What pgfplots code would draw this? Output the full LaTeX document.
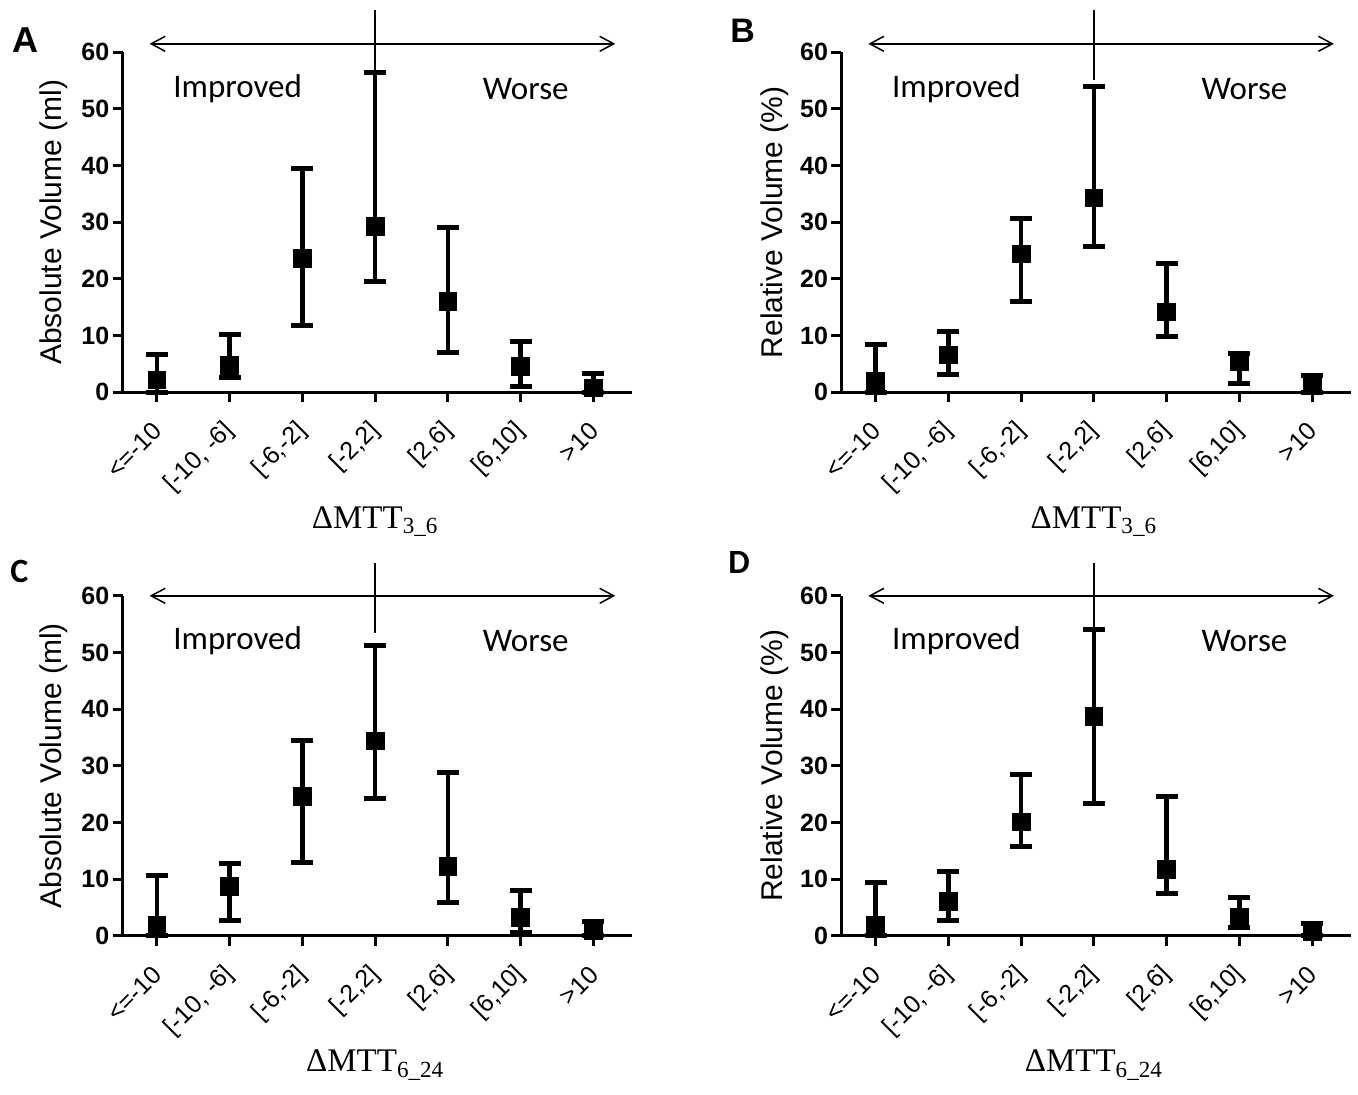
\documentclass[border=0pt]{standalone}
\usepackage{fontspec}
\setmainfont{Liberation Sans}
\newfontfamily\calib{Carlito}
\newfontfamily\tnr{Liberation Serif}
\usepackage{pgfplots}
\usepackage{pgfplotstable}
\pgfplotsset{compat=1.18}
\usetikzlibrary{arrows.meta}

% x y up lo  (up/lo = error above/below the mean)
\pgfplotstableread{
x y up lo
0 2.2 4.4 2.2
1 4.75 5.45 2.05
2 23.6 15.9 11.85
3 29.3 27.2 9.8
4 16.0 13.0 9.0
5 4.6 4.4 3.5
6 0.8 2.5 0.8
}\dataA
\pgfplotstableread{
x y up lo
0 2.0 6.4 2.0
1 6.6 4.2 3.4
2 24.4 6.2 8.4
3 34.3 19.7 8.5
4 14.2 8.5 4.3
5 5.4 1.5 3.9
6 1.4 1.5 1.4
}\dataB
\pgfplotstableread{
x y up lo
0 1.9 8.7 1.9
1 8.7 4.1 6.0
2 24.6 9.9 11.6
3 34.4 16.9 10.2
4 12.2 16.7 6.4
5 3.2 4.8 2.6
6 0.9 1.6 0.9
}\dataC
\pgfplotstableread{
x y up lo
0 1.9 7.5 1.9
1 6.1 5.3 3.4
2 20.1 8.4 4.4
3 38.7 15.3 15.4
4 11.7 12.8 4.2
5 3.2 3.5 1.8
6 0.75 1.35 0.75
}\dataD

\pgfplotsset{
  panel/.style={
    anchor=south west, scale only axis,
    width=254.65pt, height=170pt,
    xmin=-0.47, xmax=6.53, ymin=0, ymax=60,
    axis x line=bottom, axis y line=left,
    axis line style={-, line width=1.5pt},
    xtick={0,...,6},
    xticklabels={{<=-10},{[-10, -6]},{[-6,-2]},{[-2,2]},{[2,6]},{[6,10]},{>10}},
    ytick={0,10,...,60},
    tick align=outside, major tick length=5pt,
    tick style={line width=1.5pt, black},
    /pgf/number format/assume math mode=true,
    % shifts act in the rotated frame
    xticklabel style={rotate=45, anchor=east, inner sep=1pt, xshift=-7.4pt, yshift=-8.9pt,
      font=\fontsize{12.5}{13}\selectfont},
    yticklabel style={inner sep=1.5pt, font=\fontsize{12.5}{13}\selectfont\bfseries},
    clip=false,
  },
  pts/.style={black, only marks, mark=square*, mark size=4.4pt,
    error bars/.cd, y dir=both, y explicit,
    error bar style={line width=2.3pt},
    error mark options={rotate=90, line width=2.5pt, mark size=5.5pt}},
}
\tikzset{
  barb/.style={line width=0.75pt,
    {Straight Barb[length=7pt,width=7.5pt]}-{Straight Barb[length=7pt,width=7.5pt]}},
  txt/.style={font=\calib\fontsize{16.5}{17}\selectfont},
  ylab/.style={rotate=90, font=\fontsize{15}{15}\selectfont},
}

\newcommand{\annot}[5]{% arrow y, line top, line bottom, text y, label
  \draw[barb] (axis cs:-0.1,#1) -- (axis cs:6.3,#1);
  \draw[line width=0.75pt] (axis cs:3,#2) -- (axis cs:3,#3);
  \node[txt] at (axis cs:1.11,#4) {Improved};
  \node[txt] at (axis cs:5.07,#4) {Worse};
  \node[font=\tnr\fontsize{16.5}{17}\selectfont, anchor=base] at ([yshift=-68pt]axis cs:3,0) {#5};
}

\begin{document}
\begin{tikzpicture}
\useasboundingbox (0,0) rectangle (679pt,547pt);

\begin{axis}[panel, at={(61.35pt,350.85pt)}]
\addplot[pts] table[x=x, y=y, y error plus=up, y error minus=lo] {\dataA};
\annot{61.5}{67.5}{56.5}{53.6}{ΔMTT\textsubscript{3\_6}}
\node[ylab] at ([xshift=-34.3pt]rel axis cs:0,0.5) {Absolute Volume (ml)};
\end{axis}

\begin{axis}[panel, at={(420.7pt,350.85pt)}]
\addplot[pts] table[x=x, y=y, y error plus=up, y error minus=lo] {\dataB};
\annot{61.5}{67.5}{55.2}{53.6}{ΔMTT\textsubscript{3\_6}}
\node[ylab] at ([xshift=-33.5pt]rel axis cs:0,0.5) {Relative Volume (\%)};
\end{axis}

\begin{axis}[panel, at={(61.35pt,79.1pt)}]
\addplot[pts] table[x=x, y=y, y error plus=up, y error minus=lo] {\dataC};
\annot{60}{65.8}{53.5}{52.1}{ΔMTT\textsubscript{6\_24}}
\node[ylab] at ([xshift=-34.3pt]rel axis cs:0,0.5) {Absolute Volume (ml)};
\end{axis}

\begin{axis}[panel, at={(420.7pt,79.1pt)}]
\addplot[pts] table[x=x, y=y, y error plus=up, y error minus=lo] {\dataD};
\annot{60}{65.8}{54.3}{52.1}{ΔMTT\textsubscript{6\_24}}
\node[ylab] at ([xshift=-33.5pt]rel axis cs:0,0.5) {Relative Volume (\%)};
\end{axis}

\node[anchor=base west, inner sep=0, font=\bfseries\fontsize{18}{18}\selectfont] at (6pt,520.5pt) {A};
\node[anchor=base west, inner sep=0, font=\bfseries\fontsize{17}{17}\selectfont] at (365pt,525.5pt) {B};
\node[anchor=base west, inner sep=0, font=\calib\bfseries\fontsize{17}{17}\selectfont] at (5pt,256pt) {C};
\node[anchor=base west, inner sep=0, font=\calib\bfseries\fontsize{17}{17}\selectfont] at (364pt,260.5pt) {D};
\end{tikzpicture}
\end{document}
